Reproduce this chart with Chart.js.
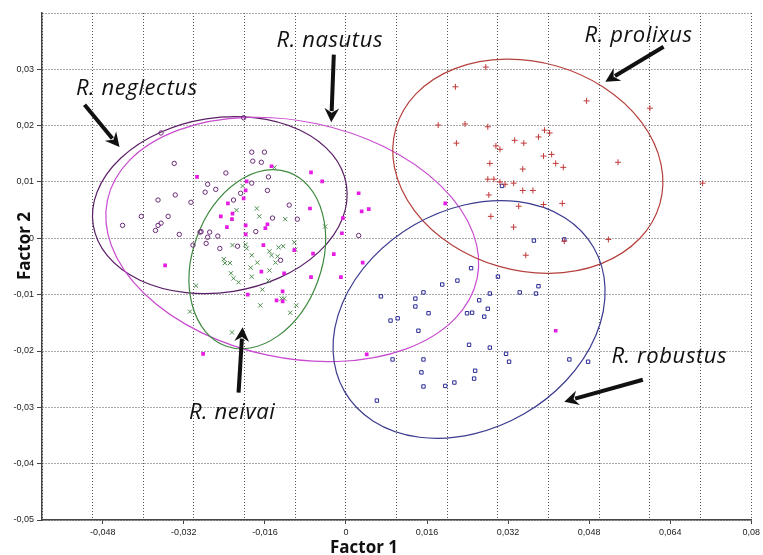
<!DOCTYPE html>
<html>
<head>
<meta charset="utf-8">
<script src="https://cdn.jsdelivr.net/npm/chart.js@4.4.1/dist/chart.umd.min.js"></script>
<style>
  html, body { margin: 0; padding: 0; background: #fff; }
  #wrap { width: 763px; height: 555px; position: relative; }
</style>
</head>
<body>
<div id="wrap"><canvas id="pca" width="763" height="555"></canvas></div>
<script>
// Tick labels
const xTicks = [-0.048, -0.032, -0.016, 0, 0.016, 0.032, 0.048, 0.064, 0.08];
const yTicks = [-0.05, -0.04, -0.03, -0.02, -0.01, 0, 0.01, 0.02, 0.03, 0.04];

// R. neglectus (open circles)
const neglectusX = [-0.0365, -0.0202, -0.0339, -0.0237, -0.0186, -0.0161, -0.0184, -0.0167, -0.0153, -0.0273,
  -0.0186, -0.0257, -0.0278, -0.0208, -0.0337, -0.0371, -0.0306, -0.0222, -0.0155, -0.0112,
  -0.0404, -0.0351, -0.0365, -0.0371, -0.0376, -0.0441, -0.0329, -0.0288, -0.0269, -0.0273,
  -0.0253, -0.0302, -0.0178, -0.0286, -0.0276, -0.0249, -0.0214, -0.0145, -0.0096, -0.0129, 0.0025];
const neglectusY = [0.0187, 0.0214, 0.0133, 0.0116, 0.0153, 0.0153, 0.0137, 0.0135, 0.0109, 0.0096,
  0.0098, 0.0087, 0.0082, 0.0080, 0.0077, 0.0068, 0.0064, 0.0068, 0.0085, 0.0059,
  0.0039, 0.0039, 0.0027, 0.0023, 0.0014, 0.0023, 0.0007, 0.0011, 0.0011, 0.0002,
  0.0004, -0.0012, 0.0012, 0.0012, -0.0009, -0.0018, -0.0014, 0.0036, 0.0034, -0.0039, 0.0005];

// R. nasutus (filled squares)
const nasutusX = [-0.0294, -0.0196, -0.0198, -0.0202, -0.0233, -0.0224, -0.0247, -0.0225, -0.0235, -0.0198,
  -0.0198, -0.0147, -0.0069, -0.0047, -0.0071, -0.0006, -0.0155, -0.0159, -0.0008, -0.0163,
  -0.0102, -0.0065, -0.0024, -0.0167, -0.0122, -0.0069, -0.0010, -0.0194, -0.0125, -0.0137,
  -0.0125, -0.0282, -0.0357, 0.0025, 0.0031, 0.0045, 0.0033, 0.0196, 0.0041, 0.0414];
const nasutusY = [0.0109, 0.0101, 0.0085, 0.0071, 0.0062, 0.0044, 0.0039, 0.0034, 0.0020, 0.0023,
  0.0007, 0.0128, 0.0117, 0.0101, 0.0053, 0.0036, 0.0025, 0.0018, 0.0009, -0.0012,
  -0.0021, -0.0027, -0.0028, -0.0059, -0.0062, -0.0069, -0.0069, -0.0100, -0.0094, -0.0110,
  -0.0112, -0.0205, -0.0048, 0.0080, 0.0048, 0.0052, -0.0043, 0.0062, -0.0206, -0.0164];

// R. neivai (crosses)
const neivaiX = [-0.0141, -0.0204, -0.0216, -0.0176, -0.0171, -0.0120, -0.0041, -0.0198, -0.0224, -0.0198,
  -0.0196, -0.0186, -0.0151, -0.0147, -0.0133, -0.0124, -0.0102, -0.0100, -0.0135, -0.0139,
  -0.0241, -0.0239, -0.0229, -0.0175, -0.0188, -0.0151, -0.0227, -0.0222, -0.0212, -0.0186,
  -0.0153, -0.0296, -0.0165, -0.0122, -0.0127, -0.0169, -0.0098, -0.0110, -0.0308, -0.0225];
const neivaiY = [0.0126, 0.0093, 0.0050, 0.0053, 0.0039, 0.0034, 0.0021, 0.0007, -0.0012, -0.0011,
  -0.0018, -0.0030, -0.0023, -0.0030, -0.0016, -0.0014, -0.0007, -0.0020, -0.0032, -0.0043,
  -0.0037, -0.0044, -0.0044, -0.0043, -0.0052, -0.0057, -0.0062, -0.0071, -0.0078, -0.0068,
  -0.0075, -0.0084, -0.0091, -0.0107, -0.0107, -0.0119, -0.0119, -0.0132, -0.0130, -0.0167];

// R. prolixus (plus signs)
const prolixusX = [0.0276, 0.0216, 0.0475, 0.0600, 0.0182, 0.0235, 0.0280, 0.0392, 0.0402, 0.0380,
  0.0218, 0.0333, 0.0351, 0.0296, 0.0304, 0.0406, 0.0390, 0.0414, 0.0429, 0.0349,
  0.0537, 0.0284, 0.0280, 0.0292, 0.0304, 0.0314, 0.0331, 0.0349, 0.0369, 0.0282,
  0.0341, 0.0390, 0.0427, 0.0704, 0.0286, 0.0331, 0.0518, 0.0431, 0.0355];
const prolixusY = [0.0304, 0.0269, 0.0244, 0.0231, 0.0201, 0.0203, 0.0198, 0.0192, 0.0187, 0.0180,
  0.0169, 0.0174, 0.0169, 0.0164, 0.0158, 0.0149, 0.0146, 0.0133, 0.0126, 0.0123,
  0.0135, 0.0133, 0.0105, 0.0105, 0.0100, 0.0096, 0.0098, 0.0085, 0.0085, 0.0077,
  0.0057, 0.0060, 0.0062, 0.0098, 0.0039, 0.0020, -0.0002, -0.0005, -0.0030];

// R. robustus (open squares)
const robustusX = [0.0308, 0.0371, 0.0431, 0.0247, 0.0300, 0.0220, 0.0190, 0.0380, 0.0153, 0.0284,
  0.0343, 0.0375, 0.0069, 0.0137, 0.0263, 0.0137, 0.0280, 0.0249, 0.0239, 0.0163,
  0.0273, 0.0102, 0.0088, 0.0143, 0.0243, 0.0284, 0.0316, 0.0322, 0.0092, 0.0153,
  0.0441, 0.0478, 0.0255, 0.0149, 0.0253, 0.0214, 0.0196, 0.0153, 0.0061];
const robustusY = [0.0093, -0.0004, -0.0002, -0.0053, -0.0068, -0.0075, -0.0082, -0.0085, -0.0096, -0.0098,
  -0.0096, -0.0098, -0.0103, -0.0107, -0.0110, -0.0121, -0.0125, -0.0132, -0.0133, -0.0133,
  -0.0139, -0.0142, -0.0146, -0.0164, -0.0189, -0.0194, -0.0205, -0.0219, -0.0215, -0.0215,
  -0.0215, -0.0219, -0.0235, -0.0238, -0.0249, -0.0256, -0.0262, -0.0263, -0.0288];

// group ellipses: centre, half-axes (data units), tilt on screen (deg)
const ellipseCx = [-0.0249, -0.0106, -0.0175, 0.0359, 0.0243];
const ellipseCy = [0.0059, -0.0002, -0.0037, 0.0128, -0.0144];
const ellipseRx = [0.0253, 0.0373, 0.0127, 0.0271, 0.0284];
const ellipseRy = [0.0155, 0.0210, 0.0164, 0.0185, 0.0194];
const ellipseTilt = [-9, 12, 20, 16, -30];
const ellipseColors = ['#5a1f66', '#c94bcf', '#3f8a3f', '#b5403c', '#3b3b8f'];

// species labels and arrows (data coords)
const labels = [
  { text: 'R. neglectus', x: -0.0533, y: 0.0254, ax: [-0.0516, 0.0237], at: [-0.0447, 0.0162] },
  { text: 'R. nasutus', x: -0.0137, y: 0.0340, ax: [-0.0024, 0.0326], at: [-0.0029, 0.0206] },
  { text: 'R. prolixus', x: 0.0471, y: 0.0349, ax: [0.0627, 0.0340], at: [0.0512, 0.0278] },
  { text: 'R. neivai', x: -0.0310, y: -0.0320, ax: [-0.0212, -0.0274], at: [-0.0204, -0.0158] },
  { text: 'R. robustus', x: 0.0524, y: -0.0221, ax: [0.0586, -0.0251], at: [0.0431, -0.0290] }
];

function pts(xs, ys) {
  return xs.map((x, i) => ({ x: x, y: ys[i] }));
}

function fmt(v) {
  return String(Math.round(v * 1000) / 1000).replace('.', ',');
}

const overlay = {
  id: 'overlay',
  beforeDatasetsDraw(chart) {
    const ctx = chart.ctx;
    const xs = chart.scales.x, ys = chart.scales.y;
    const kx = Math.abs(xs.getPixelForValue(1) - xs.getPixelForValue(0));
    const ky = Math.abs(ys.getPixelForValue(1) - ys.getPixelForValue(0));
    ctx.save();
    ellipseCx.forEach((cx, i) => {
      ctx.beginPath();
      ctx.ellipse(xs.getPixelForValue(cx), ys.getPixelForValue(ellipseCy[i]),
        ellipseRx[i] * kx, ellipseRy[i] * ky, ellipseTilt[i] * Math.PI / 180, 0, Math.PI * 2);
      ctx.strokeStyle = ellipseColors[i];
      ctx.lineWidth = 1.2;
      ctx.stroke();
    });
    ctx.restore();
  },
  afterDraw(chart) {
    const ctx = chart.ctx;
    const xs = chart.scales.x, ys = chart.scales.y;
    ctx.save();
    ctx.fillStyle = '#111';
    ctx.strokeStyle = '#111';
    ctx.font = 'italic 22px "Open Sans", sans-serif';
    ctx.letterSpacing = '0.6px';
    ctx.textBaseline = 'alphabetic';
    labels.forEach(l => {
      ctx.fillText(l.text, xs.getPixelForValue(l.x), ys.getPixelForValue(l.y));
      const x0 = xs.getPixelForValue(l.ax[0]), y0 = ys.getPixelForValue(l.ax[1]);
      const x1 = xs.getPixelForValue(l.at[0]), y1 = ys.getPixelForValue(l.at[1]);
      const a = Math.atan2(y1 - y0, x1 - x0);
      const head = 16;
      ctx.beginPath();
      ctx.lineWidth = 4;
      ctx.lineCap = 'butt';
      ctx.moveTo(x0, y0);
      ctx.lineTo(x1 - Math.cos(a) * head * 0.7, y1 - Math.sin(a) * head * 0.7);
      ctx.stroke();
      ctx.beginPath();
      ctx.moveTo(x1, y1);
      ctx.lineTo(x1 - Math.cos(a - 0.48) * head, y1 - Math.sin(a - 0.48) * head);
      ctx.lineTo(x1 - Math.cos(a) * head * 0.6, y1 - Math.sin(a) * head * 0.6);
      ctx.lineTo(x1 - Math.cos(a + 0.48) * head, y1 - Math.sin(a + 0.48) * head);
      ctx.closePath();
      ctx.fill();
    });
    // axis titles
    ctx.letterSpacing = '0px';
    ctx.font = 'bold 17px "Open Sans", sans-serif';
    ctx.textAlign = 'center';
    ctx.textBaseline = 'middle';
    ctx.fillText('Factor 1', 364, 548);
    ctx.translate(25, 246);
    ctx.rotate(-Math.PI / 2);
    ctx.fillText('Factor 2', 0, 0);
    ctx.restore();
  }
};

const tickFont = { family: '"Liberation Sans", Arial, sans-serif', size: 9 };

new Chart(document.getElementById('pca'), {
  type: 'scatter',
  data: {
    datasets: [
      { label: 'R. neglectus', data: pts(neglectusX, neglectusY), pointStyle: 'circle', pointRadius: 2.2,
        backgroundColor: 'rgba(0,0,0,0)', borderColor: '#6a2a78', pointBorderWidth: 1 },
      { label: 'R. nasutus', data: pts(nasutusX, nasutusY), pointStyle: 'rect', pointRadius: 2.6,
        backgroundColor: '#e41ce4', borderColor: '#e41ce4', pointBorderWidth: 0 },
      { label: 'R. neivai', data: pts(neivaiX, neivaiY), pointStyle: 'crossRot', pointRadius: 3,
        backgroundColor: '#4d8d4d', borderColor: '#4d8d4d', pointBorderWidth: 1 },
      { label: 'R. prolixus', data: pts(prolixusX, prolixusY), pointStyle: 'cross', pointRadius: 3,
        backgroundColor: '#c23a3a', borderColor: '#c23a3a', pointBorderWidth: 1 },
      { label: 'R. robustus', data: pts(robustusX, robustusY), pointStyle: 'rect', pointRadius: 2.4,
        backgroundColor: 'rgba(0,0,0,0)', borderColor: '#2a2a96', pointBorderWidth: 1 }
    ]
  },
  options: {
    responsive: false,
    animation: false,
    layout: { padding: { top: 13, right: 7, left: 0, bottom: 0 } },
    plugins: { legend: { display: false }, tooltip: { enabled: false } },
    scales: {
      xg: {
        type: 'linear', position: 'bottom', min: -0.06, max: 0.08,
        ticks: { display: false, stepSize: 0.01 },
        grid: { color: '#555', drawTicks: false, lineWidth: 1 },
        border: { display: false, dash: [1, 2] },
        afterFit: s => { s.height = 0; }
      },
      x: {
        type: 'linear', position: 'bottom', min: -0.06, max: 0.08,
        afterBuildTicks: s => { s.ticks = xTicks.map(v => ({ value: v })); },
        ticks: { font: tickFont, color: '#222', padding: 3, maxRotation: 0, autoSkip: false, callback: v => fmt(v) },
        grid: { drawOnChartArea: false, tickLength: 4, color: '#444' },
        border: { color: '#444', width: 1.5 },
        afterFit: s => { s.height = 35; }
      },
      y: {
        type: 'linear', min: -0.05, max: 0.04,
        afterBuildTicks: s => { s.ticks = yTicks.map(v => ({ value: v })); },
        ticks: { font: tickFont, color: '#222', padding: 3, autoSkip: false,
          callback: v => (Math.abs(v - 0.04) < 1e-9 ? '' : fmt(v)) },
        grid: { color: '#555', tickLength: 5, lineWidth: 1, tickBorderDash: [],
          tickColor: c => (c.tick && Math.abs(c.tick.value - 0.04) < 1e-9 ? 'rgba(0,0,0,0)' : '#444') },
        border: { color: '#444', width: 1.5, dash: [1, 2] },
        afterFit: s => { s.width = 42; }
      }
    }
  },
  plugins: [overlay]
});
</script>
</body>
</html>
